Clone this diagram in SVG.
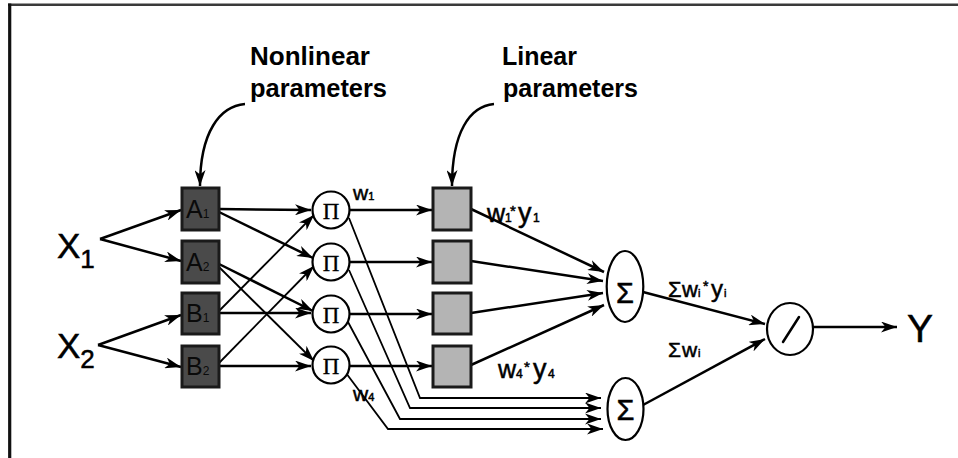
<svg xmlns="http://www.w3.org/2000/svg" width="958" height="458" viewBox="0 0 958 458">
<defs>
<marker id="ah" markerUnits="userSpaceOnUse" markerWidth="17" markerHeight="11" refX="16" refY="5.5" orient="auto">
<path d="M0,0 L16,5.5 L0,11 L4.5,5.5 z" fill="#000"/>
</marker>
<style>
.ln{fill:none;stroke:#000;stroke-width:2.5;marker-end:url(#ah)}
.thin{stroke-width:1.8}
.dk{fill:#4a4a4a;stroke:#1a1a1a;stroke-width:3}
.gy{fill:#b4b4b4;stroke:#1a1a1a;stroke-width:3}
.nd{fill:#fff;stroke:#000;stroke-width:2.2}
.t{font-family:"Liberation Sans",Arial,sans-serif;fill:#000;stroke:#000;stroke-width:0.5}
.s{font-family:"Liberation Serif","Times New Roman",serif;fill:#000;stroke:#000;stroke-width:0.3}
.hd{font-family:"Liberation Sans",Arial,sans-serif;font-weight:bold;font-size:25px;fill:#000}
.bx{font-family:"Liberation Sans",Arial,sans-serif;fill:#0a0a0a}
</style>
</defs>
<rect width="958" height="458" fill="#fff"/>
<g id="frame">
<line x1="8" y1="4.7" x2="958" y2="4.7" stroke="#3a3a3a" stroke-width="2.6"/>
<line x1="9.7" y1="3.5" x2="9.7" y2="458" stroke="#111" stroke-width="3.2"/>
</g>
<g id="connectors">
<polyline class="ln" points="100,239 181,210"/>
<polyline class="ln" points="100,239 181,261"/>
<polyline class="ln" points="98,345 181,315"/>
<polyline class="ln" points="98,345 181,367"/>
<polyline class="ln" points="219,209 311,210"/>
<polyline class="ln" points="219,212 313,258"/>
<polyline class="ln" points="219,264 313,311"/>
<polyline class="ln thin" points="219,267 314,361"/>
<polyline class="ln thin" points="219,311 314,215"/>
<polyline class="ln" points="219,313 311,313"/>
<polyline class="ln thin" points="219,363 314,266"/>
<polyline class="ln" points="219,366 311,366"/>
<polyline class="ln" points="350,210 432,210"/>
<polyline class="ln" points="350,262 432,262"/>
<polyline class="ln" points="350,314 432,314"/>
<polyline class="ln" points="350,366 432,366"/>
<polyline class="ln thin" points="349,218 420,398 601,398"/>
<polyline class="ln thin" points="349,270 410,408 601,408"/>
<polyline class="ln thin" points="348,322 400,419 601,419"/>
<polyline class="ln thin" points="346,373 388,429 603,429"/>
<polyline class="ln" points="471,209 604,272"/>
<polyline class="ln" points="471,261 603,281"/>
<polyline class="ln" points="471,313 603,293"/>
<polyline class="ln" points="471,365 604,305"/>
<polyline class="ln" points="643,292 765,324"/>
<polyline class="ln" points="643,405 765,339"/>
<polyline class="ln" points="813,327 897,327"/>
<path class="ln" d="M245,104 C220,106 200,132 200,186"/>
<path class="ln" d="M494,104 C470,106 452,132 452,186"/>
</g>
<g id="label-nonlinear">
<text class="hd" x="250" y="65" textLength="120" lengthAdjust="spacingAndGlyphs">Nonlinear</text>
<text class="hd" x="250" y="97" textLength="137" lengthAdjust="spacingAndGlyphs">parameters</text>
</g>
<g id="label-linear">
<text class="hd" x="502" y="65" textLength="75" lengthAdjust="spacingAndGlyphs">Linear</text>
<text class="hd" x="503" y="97" textLength="135" lengthAdjust="spacingAndGlyphs">parameters</text>
</g>
<g id="x1"><text class="t" x="57" y="258" font-size="35" stroke-width="0.9">X<tspan font-size="26" dy="10">1</tspan></text></g>
<g id="x2"><text class="t" x="57" y="358" font-size="35" stroke-width="0.9">X<tspan font-size="26" dy="10">2</tspan></text></g>
<g id="A1"><rect class="dk" x="182" y="188" width="37" height="42"/><text class="bx" x="186" y="218" font-size="25">A<tspan font-size="12">1</tspan></text></g>
<g id="A2"><rect class="dk" x="182" y="241" width="37" height="42"/><text class="bx" x="186" y="271" font-size="25">A<tspan font-size="12">2</tspan></text></g>
<g id="B1"><rect class="dk" x="182" y="293" width="37" height="41"/><text class="bx" x="186" y="322" font-size="25">B<tspan font-size="12">1</tspan></text></g>
<g id="B2"><rect class="dk" x="182" y="346" width="37" height="41"/><text class="bx" x="186" y="375" font-size="25">B<tspan font-size="12">2</tspan></text></g>
<g id="P1"><circle class="nd" cx="331" cy="210" r="18.5"/><text class="s" x="331" y="218.5" font-size="23" text-anchor="middle">Π</text></g>
<g id="P2"><circle class="nd" cx="331" cy="262" r="18.5"/><text class="s" x="331" y="270.5" font-size="23" text-anchor="middle">Π</text></g>
<g id="P3"><circle class="nd" cx="331" cy="314" r="18.5"/><text class="s" x="331" y="322.5" font-size="23" text-anchor="middle">Π</text></g>
<g id="P4"><circle class="nd" cx="331" cy="365" r="18.5"/><text class="s" x="331" y="373.5" font-size="23" text-anchor="middle">Π</text></g>
<g id="L1"><rect class="gy" x="433" y="188" width="38" height="42"/></g>
<g id="L2"><rect class="gy" x="433" y="241" width="38" height="42"/></g>
<g id="L3"><rect class="gy" x="433" y="293" width="38" height="41"/></g>
<g id="L4"><rect class="gy" x="433" y="346" width="38" height="41"/></g>
<g id="S1"><ellipse class="nd" cx="625" cy="286.5" rx="18.3" ry="35.5"/><text class="t" x="625" y="303" font-size="29" text-anchor="middle" stroke-width="0">Σ</text></g>
<g id="S2"><ellipse class="nd" cx="625.5" cy="409" rx="18" ry="31"/><text class="t" x="625.5" y="420" font-size="29" text-anchor="middle" stroke-width="0">Σ</text></g>
<g id="D"><ellipse class="nd" cx="790" cy="329" rx="23" ry="26"/><line x1="783" y1="342" x2="799" y2="317" stroke="#000" stroke-width="2.5" stroke-linecap="round"/></g>
<g id="Y"><text class="t" x="907" y="342" font-size="39" stroke-width="0.6">Y</text></g>
<g id="labels">
<text class="t" x="353" y="200" font-size="21">w<tspan font-size="11">1</tspan></text>
<text class="t" x="353" y="401" font-size="21">w<tspan font-size="11">4</tspan></text>
<text class="t" y="222" font-size="25"><tspan x="487">w</tspan><tspan x="505" font-size="12">1</tspan><tspan x="510" y="216" font-size="15">*</tspan><tspan x="518" y="222" font-size="27">y</tspan><tspan x="533" font-size="12">1</tspan></text>
<text class="t" y="378" font-size="25"><tspan x="498">w</tspan><tspan x="516" font-size="12">4</tspan><tspan x="524" y="372" font-size="15">*</tspan><tspan x="533" y="378" font-size="27">y</tspan><tspan x="548" font-size="12">4</tspan></text>
<text class="t" y="297" font-size="22"><tspan x="668">Σ</tspan><tspan x="682">w</tspan><tspan x="698" font-size="11">i</tspan><tspan x="703" y="291" font-size="14">*</tspan><tspan x="711" y="297" font-size="24">y</tspan><tspan x="724" font-size="11">i</tspan></text>
<text class="t" y="357" font-size="21"><tspan x="668">Σ</tspan><tspan x="682">w</tspan><tspan x="698" font-size="11">i</tspan></text>
</g>
</svg>
